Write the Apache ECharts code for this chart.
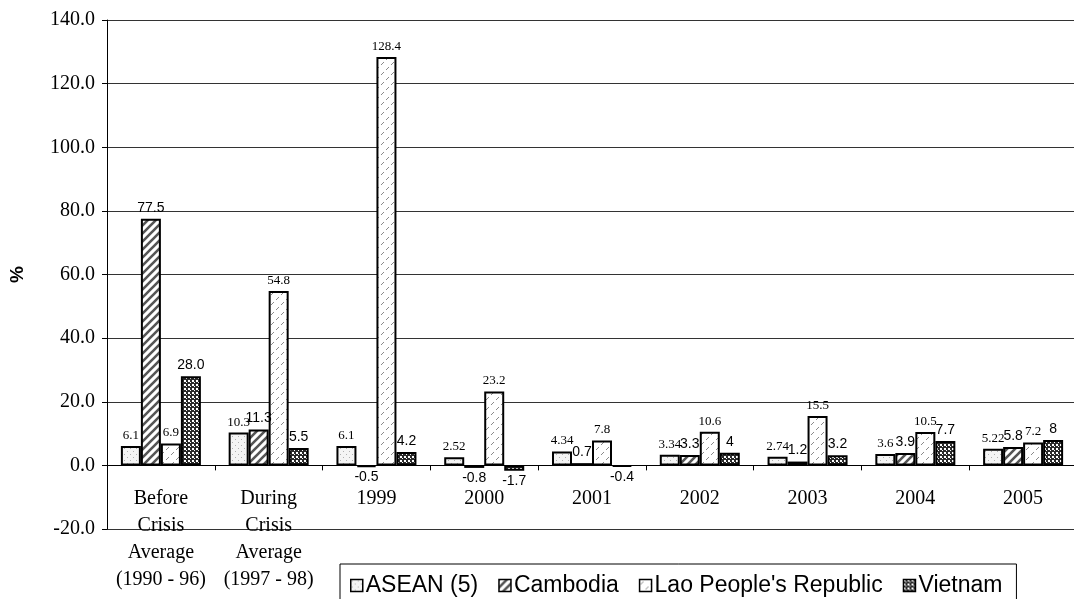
<!DOCTYPE html>
<html>
<head>
<meta charset="utf-8">
<script src="https://cdn.jsdelivr.net/npm/echarts@6/dist/echarts.min.js"></script>
<style>
html,body{margin:0;padding:0;background:#fff;}
#c{width:1074px;height:599px;}
</style>
</head>
<body>
<div id="c"></div>
<script>
// ---- data ----
const categories = ['Before\nCrisis\nAverage\n(1990 - 96)', 'During\nCrisis\nAverage\n(1997 - 98)', '1999', '2000', '2001', '2002', '2003', '2004', '2005'];
const seriesNames = ['ASEAN (5)', 'Cambodia', "Lao People's Republic", 'Vietnam'];
const asean = [6.1, 10.3, 6.1, 2.52, 4.34, 3.34, 2.74, 3.6, 5.22];
const cambodia = [77.5, 11.3, -0.5, -0.8, 0.7, 3.3, 1.2, 3.9, 5.8];
const lao = [6.9, 54.8, 128.4, 23.2, 7.8, 10.6, 15.5, 10.5, 7.2];
const vietnam = [28.0, 5.5, 4.2, -1.7, -0.4, 4, 3.2, 7.7, 8];
const labelText = [
  ['6.1', '10.3', '6.1', '2.52', '4.34', '3.34', '2.74', '3.6', '5.22'],
  ['77.5', '11.3', '-0.5', '-0.8', '0.7', '3.3', '1.2', '3.9', '5.8'],
  ['6.9', '54.8', '128.4', '23.2', '7.8', '10.6', '15.5', '10.5', '7.2'],
  ['28.0', '5.5', '4.2', '-1.7', '-0.4', '4', '3.2', '7.7', '8']
];
const yTicks = {min: -20, max: 140, interval: 20};

// ---- patterns ----
function mk(w, h, draw) {
  const c = document.createElement('canvas');
  c.width = w; c.height = h;
  const g = c.getContext('2d');
  draw(g);
  return {image: c, repeat: 'repeat'};
}
const patDots = mk(6, 6, g => {
  g.fillStyle = '#f4f4f4'; g.fillRect(0, 0, 6, 6);
  g.fillStyle = '#b0b0b0'; g.fillRect(1, 1, 1, 1); g.fillRect(4, 4, 1, 1);
});
const patStripe = mk(8, 8, g => {
  g.fillStyle = '#ffffff'; g.fillRect(0, 0, 8, 8);
  g.strokeStyle = '#555'; g.lineWidth = 2.6;
  g.beginPath();
  g.moveTo(-2, 10); g.lineTo(10, -2);
  g.moveTo(-6, 6); g.lineTo(6, -6);
  g.moveTo(2, 14); g.lineTo(14, 2);
  g.stroke();
});
const patDash = mk(10, 10, g => {
  g.fillStyle = '#ffffff'; g.fillRect(0, 0, 10, 10);
  g.strokeStyle = '#8a8a8a'; g.lineWidth = 1;
  g.beginPath();
  g.moveTo(1, 5); g.lineTo(4, 2);
  g.moveTo(6, 10); g.lineTo(9, 7);
  g.stroke();
});
const patCheck = mk(4, 4, g => {
  g.fillStyle = '#2a2a2a'; g.fillRect(0, 0, 4, 4);
  g.fillStyle = '#ffffff'; g.fillRect(0, 0, 2, 2); g.fillRect(2, 2, 1, 1);
});
const patterns = [patDots, patStripe, patDash, patCheck];
const values = [asean, cambodia, lao, vietnam];
const labelFonts = [
  {fontFamily: 'Liberation Serif', fontSize: 13},
  {fontFamily: 'Liberation Sans', fontSize: 14},
  {fontFamily: 'Liberation Serif', fontSize: 13},
  {fontFamily: 'Liberation Sans', fontSize: 14}
];

const series = seriesNames.map((name, si) => ({
  name: name,
  type: 'bar',
  barWidth: 20,
  barGap: '0%',
  itemStyle: {color: patterns[si], borderColor: '#000', borderWidth: 2},
  label: Object.assign({
    show: true, position: 'top', distance: 4, color: '#000',
    formatter: p => labelText[si][p.dataIndex]
  }, labelFonts[si]),
  data: values[si].map(v => v < 0 ? {value: v, label: {position: 'bottom', distance: 3}} : v)
}));

const chart = echarts.init(document.getElementById('c'), null, {renderer: 'canvas'});
chart.setOption({
  animation: false,
  backgroundColor: '#fff',
  grid: {left: 107, top: 20, width: 970, bottom: 70, containLabel: false, outerBoundsMode: 'none'},
  legend: {
    left: 340, top: 564,
    icon: 'rect',
    itemWidth: 12, itemHeight: 12, itemGap: 20,
    borderColor: '#000', borderWidth: 1,
    padding: [10, 14, 14, 10],
    itemStyle: {borderColor: '#000', borderWidth: 1.5},
    textStyle: {fontFamily: 'Liberation Sans', fontSize: 23, color: '#000', padding: [0, 0, 0, -2]},
    data: seriesNames
  },
  xAxis: {
    type: 'category',
    data: categories,
    axisLine: {onZero: true, lineStyle: {color: '#000', width: 1}},
    axisTick: {show: true, length: 5, lineStyle: {color: '#000'}},
    axisLabel: {fontFamily: 'Liberation Serif', fontSize: 20, color: '#000', lineHeight: 27, margin: -44, interval: 0},
    splitLine: {show: false}
  },
  yAxis: {
    type: 'value',
    min: yTicks.min, max: yTicks.max, interval: yTicks.interval,
    name: '%', nameLocation: 'middle', nameGap: 80, nameRotate: 90,
    nameTextStyle: {fontFamily: 'Liberation Sans', fontSize: 19, fontWeight: 'bold', color: '#000'},
    axisLine: {show: true, lineStyle: {color: '#000'}},
    axisTick: {show: true, length: 5, lineStyle: {color: '#000'}},
    axisLabel: {fontFamily: 'Liberation Serif', fontSize: 20, color: '#000', margin: 12, formatter: v => v.toFixed(1)},
    splitLine: {show: true, lineStyle: {color: '#333', width: 1}}
  },
  series: series
});
</script>
</body>
</html>
